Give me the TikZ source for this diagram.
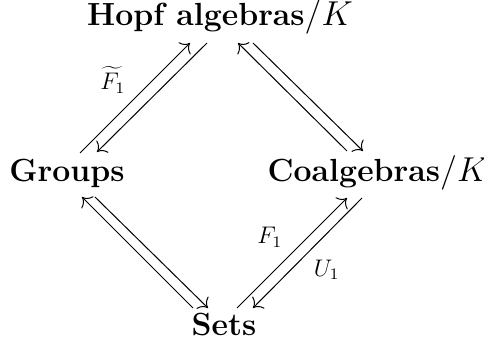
\documentclass[tikz,border=0pt]{standalone}
\usetikzlibrary{arrows.meta}
\begin{document}
\begin{tikzpicture}[x=0.5pt,y=-0.5pt,
  obj/.style={anchor=base,inner sep=0pt,font=\fontsize{16}{19}\selectfont\bfseries},
  lab/.style={inner sep=0pt,font=\fontsize{12}{14}\selectfont},
  arr/.style={line width=0.5pt,-{To[scale=1.5]}}]
\useasboundingbox (0,0) rectangle (484,346);
\node[obj] (h) at (220,26) {Hopf algebras$/K$};
\node[obj] (g) at (67,182) {Groups};
\node[obj] (c) at (378,182) {Coalgebras$/K$};
\node[obj] (s) at (224,336) {Sets};
% Groups <-> Hopf
\draw[arr] ([shift={(13,-29)}]g.base) -- node[lab,pos=0.48,shift={(-20,-20)}] (lf) {$\widetilde{F_1}$} ([shift={(-30,17)}]h.base);
\draw[arr] ([shift={(-13,17)}]h.base) -- ([shift={(30,-30)}]g.base);
% Hopf <-> Coalgebras
\draw[arr] ([shift={(-31,-31)}]c.base) -- ([shift={(18,17)}]h.base);
\draw[arr] ([shift={(33,17)}]h.base) -- ([shift={(-15,-31)}]c.base);
% Groups <-> Sets
\draw[arr] ([shift={(-31,-28)}]s.base) -- ([shift={(15,15)}]g.base);
\draw[arr] ([shift={(28,15)}]g.base) -- ([shift={(-16,-28)}]s.base);
% Sets <-> Coalgebras
\draw[arr] ([shift={(13,-28)}]s.base) -- node[lab,pos=0.47,shift={(-19,-19)}] (lF) {$F_1$} ([shift={(-31,16)}]c.base);
\draw[arr] ([shift={(-16,16)}]c.base) -- node[lab,pos=0.49,shift={(18,18)}] (lU) {$U_1$} ([shift={(29,-28)}]s.base);
\end{tikzpicture}
\end{document}
